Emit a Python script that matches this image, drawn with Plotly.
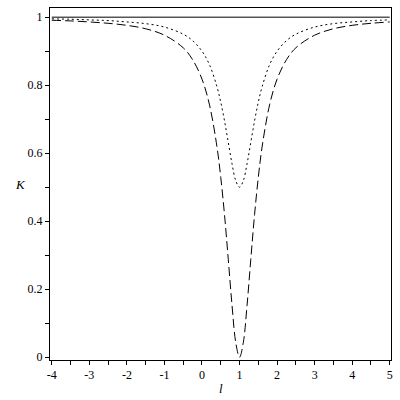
import plotly.graph_objects as go

# values
l_vals = [-4, -3.5, -3, -2.5, -2, -1.5, -1, -0.5, -0.25, 0, 0.2, 0.4, 0.5, 0.6,
          0.7, 0.8, 0.9, 1.0, 1.1, 1.2, 1.3, 1.4, 1.5, 1.6, 1.8, 2.0, 2.25,
          2.5, 3, 3.5, 4, 4.5, 5]
k_dash = [0.991, 0.989, 0.986, 0.982, 0.976, 0.966, 0.947, 0.910, 0.875, 0.818,
          0.742, 0.618, 0.529, 0.419, 0.288, 0.153, 0.043, 0.0, 0.043, 0.153,
          0.288, 0.419, 0.529, 0.618, 0.742, 0.818, 0.875, 0.910, 0.947,
          0.966, 0.976, 0.982, 0.986]
k_dot = [0.995, 0.994, 0.992, 0.990, 0.986, 0.981, 0.971, 0.950, 0.931, 0.900,
         0.860, 0.795, 0.750, 0.695, 0.632, 0.569, 0.519, 0.500, 0.519, 0.569,
         0.632, 0.695, 0.750, 0.795, 0.860, 0.900, 0.931, 0.950, 0.971,
         0.981, 0.986, 0.990, 0.992]
l_flat = [-4, 5]
k_flat = [1, 1]

x_ticks = [-4, -3, -2, -1, 0, 1, 2, 3, 4, 5]
x_labels = ["-4", "-3", "-2", "-1", "0", "1", "2", "3", "4", "5"]
y_ticks = [0, 0.2, 0.4, 0.6, 0.8, 1]
y_labels = ["0", "0.2", "0.4", "0.6", "0.8", "1"]

font = "Liberation Serif, Times New Roman, serif"

fig = go.Figure()
fig.add_trace(go.Scatter(x=l_flat, y=k_flat, mode="lines",
                         line=dict(color="black", width=1)))
fig.add_trace(go.Scatter(x=l_vals, y=k_dot, mode="lines", line_shape="spline",
                         line=dict(color="black", width=1, dash="2px,3px")))
fig.add_trace(go.Scatter(x=l_vals, y=k_dash, mode="lines", line_shape="spline",
                         line=dict(color="black", width=1, dash="9px,4px")))

axis_common = dict(showline=True, linecolor="black", linewidth=1, mirror=True,
                   showgrid=False, zeroline=False, ticks="outside", ticklen=4,
                   tickcolor="black", tickfont=dict(family=font, size=12, color="black"))

fig.update_xaxes(range=[-4.048, 5.034], tickvals=x_ticks, ticktext=x_labels,
                 minor=dict(dtick=0.5, ticks="outside", ticklen=4, tickcolor="black"),
                 **axis_common)
fig.update_yaxes(range=[-0.008, 1.027], tickvals=y_ticks, ticktext=y_labels,
                 minor=dict(dtick=0.1, ticks="outside", ticklen=4, tickcolor="black"),
                 **axis_common)

fig.add_annotation(text="<i>K</i>", xref="paper", yref="paper", x=-0.108, y=0.5,
                   showarrow=False, font=dict(family=font, size=13, color="black"))
fig.add_annotation(text="<i>l</i>", xref="paper", yref="paper", x=0.5, y=-0.055,
                   yanchor="top", showarrow=False,
                   font=dict(family=font, size=13, color="black"))

fig.update_layout(width=400, height=400, showlegend=False, hovermode=False,
                  margin=dict(l=50, r=7, t=7, b=40),
                  plot_bgcolor="white", paper_bgcolor="white")

# the page body has a default 8px margin; drop it so the figure sits at 0,0
fig.write_html("out.html", config={"displayModeBar": False},
               post_script="document.body.style.margin='0';")
